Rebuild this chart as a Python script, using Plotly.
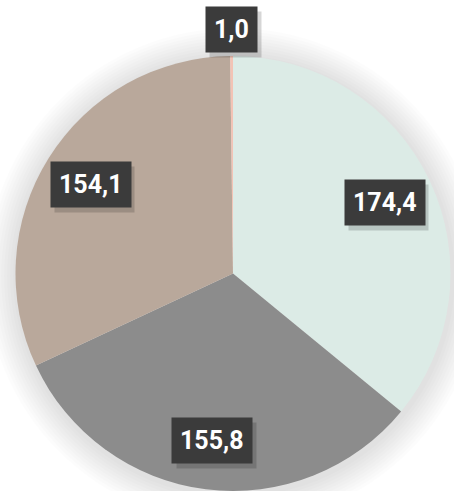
import math
import plotly.graph_objects as go

# ---- data ----
labels = ["A", "B", "C", "D"]
values = [174.4, 155.8, 154.1, 1.0]
value_labels = ["174,4", "155,8", "154,1", "1,0"]
colors = ["#dcebe6", "#8c8c8c", "#b9a89b", "#f3c3b5"]

W, H = 454, 491
# pie placement (pixels)
CX, CY, R = 233, 274, 218

dom_x = [(CX - R) / W, (CX + R) / W]
dom_y = [max(1 - (CY + R) / H, 0), 1 - (CY - R) / H]

fig = go.Figure()
fig.add_trace(go.Pie(
    labels=labels, values=values, sort=False, direction="clockwise", rotation=0,
    marker=dict(colors=colors, line=dict(width=0)),
    textinfo="none", hoverinfo="label+value", showlegend=False,
    domain=dict(x=dom_x, y=dom_y),
))

# soft shadow around the pie
shapes = []
for d in range(30, 0, -3):
    shapes.append(dict(
        type="circle", xref="paper", yref="paper", layer="below",
        x0=(CX + 1 - R - d) / W, x1=(CX + 1 + R + d) / W,
        y0=1 - (CY + 2 + R + d) / H, y1=1 - (CY + 2 - R - d) / H,
        fillcolor="rgba(0,0,0,0.013)", line=dict(width=0),
    ))


def blank(s):
    # same-width invisible placeholder for the box shadow
    return "".join("\u2008" if c == "," else "\u2007" for c in s)


# label boxes placed along each slice's mid angle
total = sum(values)
annotations = []
cum = 0
for v, t in zip(values, value_labels):
    mid = (cum + v / 2) / total * 2 * math.pi
    cum += v
    frac = 0.77 if v / total > 0.05 else 1.12
    px = CX + frac * R * math.sin(mid)
    py = CY - frac * R * math.cos(mid)
    for shadow in (True, False):
        annotations.append(dict(
            x=(px + (4 if shadow else 0)) / W, y=1 - (py + (5 if shadow else 0)) / H,
            xref="paper", yref="paper", showarrow=False,
            text="<b>%s</b>" % (blank(t) if shadow else t),
            font=dict(family="Roboto", size=25, color="white"),
            bgcolor="rgba(0,0,0,0.16)" if shadow else "#3b3b3b",
            borderpad=8, xanchor="center", yanchor="middle",
        ))

fig.update_layout(
    width=W, height=H, margin=dict(l=0, r=0, t=0, b=0),
    paper_bgcolor="white", plot_bgcolor="white",
    shapes=shapes, annotations=annotations,
)
fig.write_html("out.html", config={"displayModeBar": False},
               post_script="document.body.style.margin='0';document.body.style.overflow='hidden';")
